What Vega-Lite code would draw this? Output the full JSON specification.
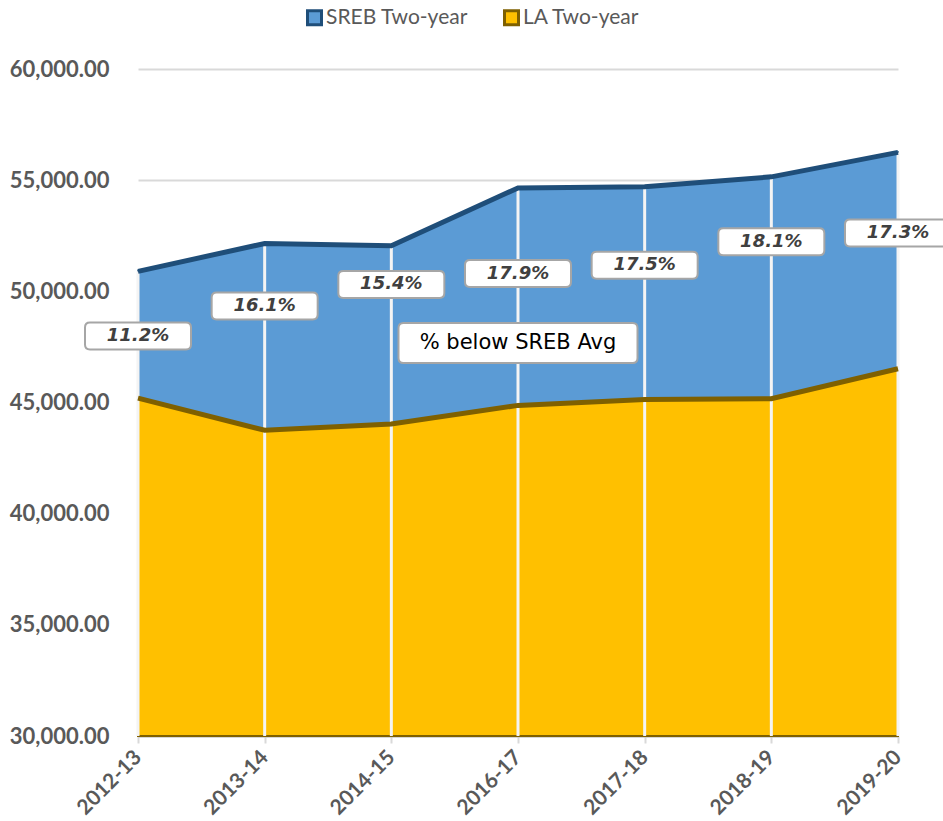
{
  "$schema": "https://vega.github.io/schema/vega-lite/v6.json",
  "autosize": "none",
  "padding": {"left": 138, "top": 69, "right": 45, "bottom": 85},
  "width": 760,
  "height": 667,
  "background": "white",
  "datasets": {
    "main": [
      {"year": "2012-13", "series": "SREB Two-year", "value": 50900},
      {"year": "2013-14", "series": "SREB Two-year", "value": 52150},
      {"year": "2014-15", "series": "SREB Two-year", "value": 52050},
      {"year": "2016-17", "series": "SREB Two-year", "value": 54650},
      {"year": "2017-18", "series": "SREB Two-year", "value": 54700},
      {"year": "2018-19", "series": "SREB Two-year", "value": 55150},
      {"year": "2019-20", "series": "SREB Two-year", "value": 56250},
      {"year": "2012-13", "series": "LA Two-year", "value": 45200},
      {"year": "2013-14", "series": "LA Two-year", "value": 43750},
      {"year": "2014-15", "series": "LA Two-year", "value": 44030},
      {"year": "2016-17", "series": "LA Two-year", "value": 44870},
      {"year": "2017-18", "series": "LA Two-year", "value": 45130},
      {"year": "2018-19", "series": "LA Two-year", "value": 45170},
      {"year": "2019-20", "series": "LA Two-year", "value": 46520}
    ],
    "labels": [
      {"year": "2012-13", "pct": "11.2%", "pos": 47990},
      {"year": "2013-14", "pct": "16.1%", "pos": 49340},
      {"year": "2014-15", "pct": "15.4%", "pos": 50310},
      {"year": "2016-17", "pct": "17.9%", "pos": 50800},
      {"year": "2017-18", "pct": "17.5%", "pos": 51170},
      {"year": "2018-19", "pct": "18.1%", "pos": 52230},
      {"year": "2019-20", "pct": "17.3%", "pos": 52620}
    ],
    "note": [
      {"year": "2016-17", "text": "% below SREB Avg", "pos": 47680}
    ]
  },
  "layer": [
    {
      "data": {"name": "main"},
      "transform": [{"filter": "datum.series === 'SREB Two-year'"}],
      "mark": {"type": "area", "strokeWidth": 2, "opacity": 1},
      "encoding": {
        "x": {"field": "year", "type": "ordinal", "sort": null, "title": null,
              "scale": {"type": "point", "padding": 0}},
        "y": {"field": "value", "type": "quantitative", "title": null,
              "scale": {"domain": [30000, 60000], "zero": false, "nice": false},
              "axis": {"values": [30000, 35000, 40000, 45000, 50000, 55000, 60000], "format": ",.2f"}},
        "y2": {"datum": 30000},
        "color": {"field": "series", "type": "nominal", "title": null,
                  "scale": {"domain": ["SREB Two-year", "LA Two-year"], "range": ["#5b9bd5", "#ffc000"]},
                  "legend": {"orient": "none", "legendX": 166, "legendY": -62, "direction": "horizontal"}},
        "stroke": {"field": "series", "type": "nominal", "title": null,
                   "scale": {"domain": ["SREB Two-year", "LA Two-year"], "range": ["#1f4e79", "#7f6000"]},
                   "legend": {"orient": "none", "legendX": 166, "legendY": -62, "direction": "horizontal"}}
      }
    },
    {
      "data": {"name": "main"},
      "transform": [{"filter": "datum.series === 'LA Two-year'"}],
      "mark": {"type": "area", "strokeWidth": 2, "opacity": 1},
      "encoding": {
        "x": {"field": "year", "type": "ordinal", "sort": null, "title": null},
        "y": {"field": "value", "type": "quantitative", "title": null},
        "y2": {"datum": 30000},
        "color": {"field": "series", "type": "nominal", "title": null},
        "stroke": {"field": "series", "type": "nominal", "title": null}
      }
    },
    {
      "data": {"name": "main"},
      "transform": [{"filter": "datum.series === 'SREB Two-year'"}],
      "mark": {"type": "rule", "color": "#f4f4f4", "strokeWidth": 3},
      "encoding": {
        "x": {"field": "year", "type": "ordinal", "sort": null, "title": null},
        "y": {"field": "value", "type": "quantitative", "title": null},
        "y2": {"datum": 30000}
      }
    },
    {
      "data": {"name": "main"},
      "mark": {"type": "line", "strokeWidth": 5, "strokeJoin": "miter"},
      "encoding": {
        "x": {"field": "year", "type": "ordinal", "sort": null, "title": null},
        "y": {"field": "value", "type": "quantitative", "title": null},
        "stroke": {"field": "series", "type": "nominal", "title": null}
      }
    },
    {
      "data": {"name": "labels"},
      "mark": {"type": "point", "filled": true, "fill": "white", "stroke": "#a6a6a6", "strokeWidth": 2, "opacity": 1, "size": 729,
               "shape": "M-3.556,-1L3.556,-1Q3.926,-1 3.926,-0.63L3.926,0.63Q3.926,1 3.556,1L-3.556,1Q-3.926,1 -3.926,0.63L-3.926,-0.63Q-3.926,-1 -3.556,-1Z"},
      "encoding": {
        "x": {"field": "year", "type": "ordinal", "sort": null, "title": null},
        "y": {"field": "pos", "type": "quantitative", "title": null}
      }
    },
    {
      "data": {"name": "labels"},
      "mark": {"type": "text", "font": "DejaVu Sans", "fontWeight": "bold", "fontStyle": "italic", "fontSize": 18, "fill": "#404040", "baseline": "middle", "align": "center"},
      "encoding": {
        "x": {"field": "year", "type": "ordinal", "sort": null, "title": null},
        "y": {"field": "pos", "type": "quantitative", "title": null},
        "text": {"field": "pct", "type": "nominal"}
      }
    },
    {
      "data": {"name": "note"},
      "mark": {"type": "point", "filled": true, "fill": "white", "stroke": "#a6a6a6", "strokeWidth": 2, "opacity": 1, "size": 1600,
               "shape": "M-5.725,-1L5.725,-1Q5.975,-1 5.975,-0.75L5.975,0.75Q5.975,1 5.725,1L-5.725,1Q-5.975,1 -5.975,0.75L-5.975,-0.75Q-5.975,-1 -5.725,-1Z"},
      "encoding": {
        "x": {"field": "year", "type": "ordinal", "sort": null, "title": null},
        "y": {"field": "pos", "type": "quantitative", "title": null}
      }
    },
    {
      "data": {"name": "note"},
      "mark": {"type": "text", "font": "DejaVu Sans", "fontSize": 21, "fill": "#000000", "baseline": "middle", "align": "center"},
      "encoding": {
        "x": {"field": "year", "type": "ordinal", "sort": null, "title": null},
        "y": {"field": "pos", "type": "quantitative", "title": null},
        "text": {"field": "text", "type": "nominal"}
      }
    }
  ],
  "config": {
    "view": {"stroke": null},
    "axisY": {
      "labelFont": "Lato", "labelFontWeight": "bold", "labelFontSize": 22, "labelColor": "#595959",
      "gridColor": "#d9d9d9", "gridWidth": 2, "domain": false, "ticks": false, "tickSize": 0, "labelPadding": 29
    },
    "axisX": {
      "labelAngle": -45, "labelAlign": "right", "labelBaseline": "middle",
      "labelFont": "Lato", "labelFontWeight": "bold", "labelFontSize": 21, "labelColor": "#595959",
      "grid": false, "domainColor": "#bfbfbf", "domainWidth": 2,
      "tickColor": "#d9d9d9", "tickSize": 7, "tickWidth": 2, "labelPadding": 11
    },
    "legend": {
      "symbolType": "square", "symbolSize": 196, "symbolStrokeWidth": 3,
      "labelFont": "Lato", "labelFontSize": 21, "labelColor": "#595959",
      "labelOffset": 1, "columnPadding": 30, "padding": 0
    }
  }
}
